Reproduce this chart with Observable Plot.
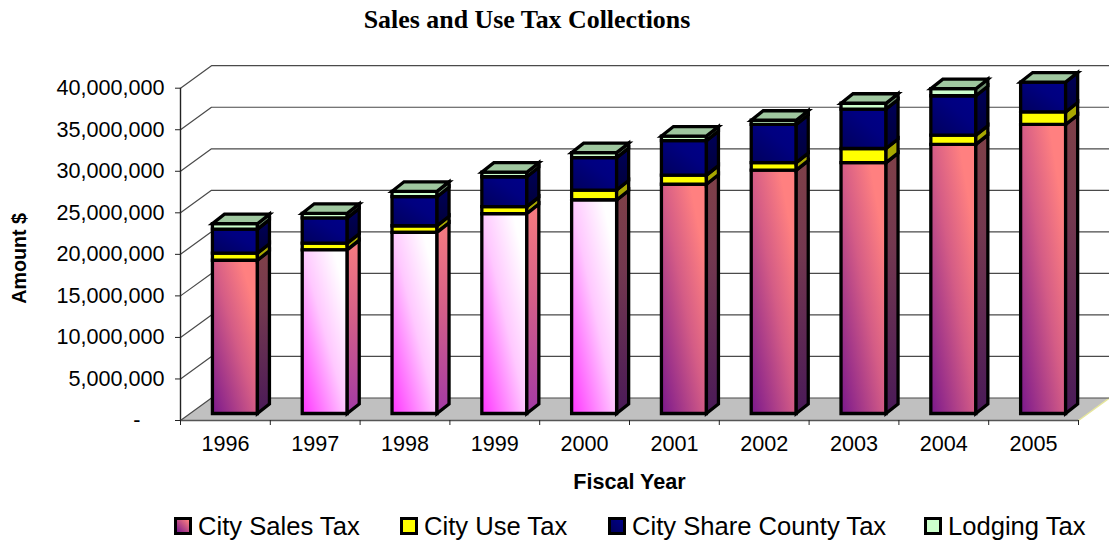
<!DOCTYPE html>
<html>
<head>
<meta charset="utf-8">
<title>Sales and Use Tax Collections</title>
<script src="https://cdn.jsdelivr.net/npm/d3@7"></script>
<script src="https://cdn.jsdelivr.net/npm/@observablehq/plot@0.6"></script>
<style>
  html, body { margin: 0; padding: 0; background: #fff; overflow: hidden; }
  #page { position: relative; width: 1109px; height: 541px; }
  #heading { height: 45px; box-sizing: border-box; padding: 4px 55px 0 0; text-align: center;
    font: bold 25.9px/32px "Liberation Serif", serif; color: #000; }
  #chart svg { display: block; }
  #legend { position: absolute; left: 0; top: 505px; width: 1109px; height: 36px;
    font: 25.6px/1 "Liberation Sans", sans-serif; color: #000; }
  #legend span.entry { position: absolute; top: 9px; white-space: nowrap; }
  #legend i { position: absolute; left: -24px; top: 3px; width: 12px; height: 12px; border: 3px solid #000; display: block; }
</style>
</head>
<body>
<div id="page">
  <div id="heading">Sales and Use Tax Collections</div>
  <div id="chart"></div>
  <div id="legend"></div>
</div>
<script>
// Fiscal years and the four revenue streams, in dollars
const years = [1996, 1997, 1998, 1999, 2000, 2001, 2002, 2003, 2004, 2005];
const citySalesTax = [18450000, 19700000, 21800000, 24050000, 25700000, 27600000, 29300000, 30200000, 32400000, 34800000];
const cityUseTax = [850000, 800000, 800000, 850000, 1200000, 1100000, 900000, 1700000, 1100000, 1500000];
const cityShareCountyTax = [2900000, 3050000, 3500000, 3600000, 3900000, 4150000, 4600000, 4750000, 4750000, 3600000];
const lodgingTax = [650000, 550000, 650000, 550000, 600000, 550000, 500000, 700000, 850000, 0];
const yTicks = [0, 5000000, 10000000, 15000000, 20000000, 25000000, 30000000, 35000000, 40000000];

const seriesNames = ["City Sales Tax", "City Use Tax", "City Share County Tax", "Lodging Tax"];
const seriesValues = [citySalesTax, cityUseTax, cityShareCountyTax, lodgingTax];

// Oblique projection of the chart box, expressed in scale units
const wallX = 0.345, wallY = 2708000;      // depth of the whole box
const barW = 0.501;                        // bar width within a category
const barX = 0.134, barY = 1143000;        // depth of one bar
const insetX = 0.106, insetY = 840000;     // bar offset from the front edge of the floor

// Which years use the pale front and the brighter side
const paleFront = new Set([1997, 1998, 1999, 2000]);
const brightSide = new Set([1997, 1998, 1999]);

const faces = new Map();
let faceId = 0;
function addFace(fill, corners) {
  if (!faces.has(fill)) faces.set(fill, []);
  const id = faceId++;
  for (const [x, y] of corners) faces.get(fill).push({id, x, y});
}

years.forEach((year, i) => {
  const x0 = i + (1 - barW) / 2 + insetX;
  const x1 = x0 + barW;
  let base = insetY;
  seriesValues.forEach((values, s) => {
    const top = base + values[i];
    if (values[i] > 0) {
      const front = s === 0 ? (paleFront.has(year) ? "url(#pale)" : "url(#salmon)")
        : s === 1 ? "#ffff00" : s === 2 ? "url(#navy)" : "#ccffcc";
      const side = s === 0 ? (brightSide.has(year) ? "url(#salmonSide)" : "url(#darkSide)")
        : s === 1 ? "#a8a800" : s === 2 ? "url(#navySide)" : "#6f8f6f";
      addFace(front, [[x0, base], [x1, base], [x1, top], [x0, top]]);
      addFace(side, [[x1, base], [x1 + barX, base + barY], [x1 + barX, top + barY], [x1, top]]);
    }
    base = top;
  });
  addFace("#9fc79f", [[x0, base], [x1, base], [x1 + barX, base + barY], [x0 + barX, base + barY]]);
});

const n = years.length;
const floor = [[0, 0], [n, 0], [n + wallX, wallY], [wallX, wallY]].map(([x, y]) => ({x, y}));
const gridLines = yTicks.flatMap((v) => [
  {v, x: 0, y: v},
  {v, x: wallX, y: v + wallY},
  {v, x: n + wallX, y: v + wallY}
]);

const chart = Plot.plot({
  width: 1109,
  height: 460,
  marginLeft: 180,
  marginRight: 31,
  marginTop: 42.7,
  marginBottom: 85,
  style: {background: "#fff", color: "#000", fontFamily: "'Liberation Sans', sans-serif"},
  x: {type: "linear", domain: [0, n], range: [180, 1078]},
  y: {type: "linear", domain: [0, 40000000]},
  marks: [
    Plot.line(floor, {x: "x", y: "y", fill: "#c0c0c0", stroke: "none", curve: "linear-closed"}),
    Plot.line([{x: n, y: 0}, {x: n + wallX, y: wallY}], {x: "x", y: "y", stroke: "#e6e69c", strokeWidth: 1.5}),
    Plot.line(gridLines, {x: "x", y: "y", z: "v", stroke: "#4a4a4a", strokeWidth: 1.2}),
    Plot.ruleX([0], {y1: 0, y2: 40000000, stroke: "#222", strokeWidth: 1.4}),
    Plot.ruleY([0], {x1: 0, x2: n, stroke: "#555", strokeWidth: 1.4}),
    ...Array.from(faces, ([fill, points]) => Plot.line(points, {
      x: "x", y: "y", z: "id", fill, stroke: "#000", strokeWidth: 3.3,
      strokeLinejoin: "miter", strokeMiterlimit: 10, curve: "linear-closed"
    })),
    Plot.axisY({
      ticks: yTicks, tickSize: 5, tickPadding: 11, fontSize: 21.6, label: null,
      stroke: "#222", tickFormat: (d) => d === 0 ? "-\u00a0\u00a0\u00a0\u00a0" : d3.format(",")(d)
    }),
    Plot.axisX({ticks: d3.range(n + 1), tickSize: 5, tickFormat: () => "", label: null, stroke: "#222"}),
    Plot.axisX({
      ticks: d3.range(n).map((i) => i + 0.5), tickSize: 0, tickPadding: 15, fontSize: 21.6, label: null,
      tickFormat: (d) => String(years[Math.floor(d)])
    }),
    Plot.text(["Fiscal Year"], {x: n / 2, y: 0, dy: 62, fontSize: 21.6, fontWeight: "bold"}),
    Plot.text(["Amount $"], {frameAnchor: "left", textAnchor: "middle", rotate: -90, dx: -161, dy: 4, fontSize: 19.7, fontWeight: "bold"})
  ]
});

// Diagonal and vertical gradients for the bar faces
const gradients = {
  salmon: {dir: [0, 1, 1, 0], stops: [[0, "#7a188c"], [0.5, "#d45c86"], [0.82, "#ff8080"], [1, "#ff8080"]]},
  pale: {dir: [0, 1, 1, 0], stops: [[0, "#ff33ff"], [0.5, "#ffc8ff"], [0.85, "#ffffff"], [1, "#ffffff"]]},
  darkSide: {dir: [0, 1, 0, 0], stops: [[0, "#4a1a58"], [0.65, "#73384f"], [1, "#7f4048"]]},
  salmonSide: {dir: [0, 1, 0, 0], stops: [[0, "#a33aa5"], [0.55, "#d45f88"], [1, "#f87c80"]]},
  navy: {dir: [0, 1, 1, 0], stops: [[0, "#00005c"], [0.6, "#000080"], [1, "#000088"]]},
  navySide: {dir: [0, 1, 0, 0], stops: [[0, "#00003a"], [1, "#000058"]]}
};
const defs = d3.select(chart).insert("defs", ":first-child");
for (const [id, {dir, stops}] of Object.entries(gradients)) {
  const g = defs.append("linearGradient").attr("id", id)
    .attr("x1", dir[0]).attr("y1", dir[1]).attr("x2", dir[2]).attr("y2", dir[3]);
  for (const [offset, color] of stops) g.append("stop").attr("offset", offset).attr("stop-color", color);
}
document.getElementById("chart").append(chart);

// Legend below the plot
const swatches = ["linear-gradient(45deg, #7a188c, #ff8080)", "#ffff00", "linear-gradient(45deg, #00005c, #000088)", "#ccffcc"];
const legendLeft = [198, 424, 632, 948];
seriesNames.forEach((name, i) => {
  const entry = document.createElement("span");
  entry.className = "entry";
  entry.style.left = legendLeft[i] + "px";
  entry.textContent = name;
  const box = document.createElement("i");
  box.style.background = swatches[i];
  entry.prepend(box);
  document.getElementById("legend").append(entry);
});
</script>
</body>
</html>
